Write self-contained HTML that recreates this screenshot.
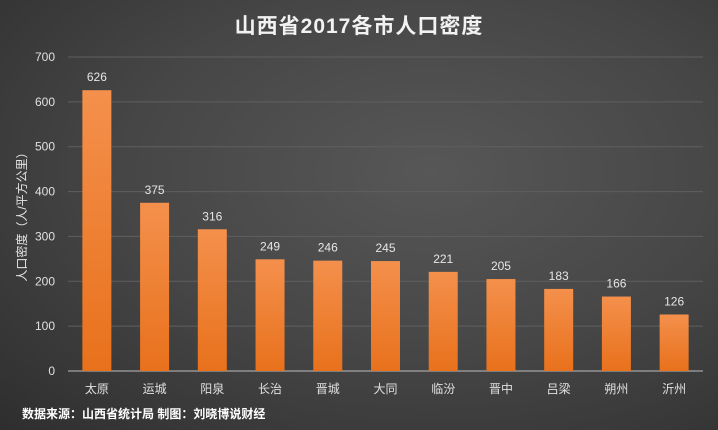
<!DOCTYPE html>
<html><head><meta charset="utf-8"><style>
body{margin:0;width:718px;height:430px;overflow:hidden;background:radial-gradient(ellipse at 60% 40%,#575757 0%,#464646 50%,#2e2e2e 100%);font-family:"Liberation Sans","Noto Sans CJK SC",sans-serif;}
svg{display:block}
</style></head><body>
<svg id="c" width="718" height="430">
<defs><linearGradient id="g" x1="0" y1="0" x2="0" y2="1"><stop offset="0" stop-color="#f4904c"/><stop offset="1" stop-color="#e8711c"/></linearGradient></defs>
<text x="359" y="33" text-anchor="middle" fill="#f2f2f2" font-size="21" font-weight="bold" style="letter-spacing:1px">山西省2017各市人口密度</text>
<text transform="translate(26,214) rotate(-90)" text-anchor="middle" fill="#e6e6e6" font-size="12">人口密度（人/平方公里）</text>
<text x="22" y="418" fill="#ffffff" font-size="12" font-weight="bold">数据来源：山西省统计局 制图：刘晓博说财经</text>
<g id="grid"></g><g id="bars"></g>
</svg>
<script>
const categories=["太原","运城","阳泉","长治","晋城","大同","临汾","晋中","吕梁","朔州","沂州"];
const values=[626,375,316,249,246,245,221,205,183,166,126];
const ticks=[0,100,200,300,400,500,600,700];
const svg=document.getElementById('c'),NS="http://www.w3.org/2000/svg";
const x0=68,x1=703,yBase=371,yTop=57,yMax=700;
const y=v=>yBase-(v/yMax)*(yBase-yTop);
const step=(x1-x0)/categories.length;
const xc=i=>x0+step*(i+0.5);
const grid=document.getElementById('grid'),bars=document.getElementById('bars');
function mk(t,a,p){const e=document.createElementNS(NS,t);for(const k in a)e.setAttribute(k,a[k]);p.appendChild(e);return e;}
ticks.forEach(t=>{
  const l=mk('line',{x1:x0,x2:x1,y1:y(t),y2:y(t),stroke:t===0?'#bdbdbd':'#5f5f5f','stroke-width':1},grid);
  
  
  const tx=mk('text',{x:55,y:y(t)+4,'text-anchor':'end',fill:'#e0e0e0','font-size':12},grid);tx.textContent=t;
  
  
});
categories.forEach((c,i)=>{
  const w=29,cx=xc(i);
  const r=mk('rect',{x:cx-w/2,y:y(values[i]),width:w,height:yBase-y(values[i]),fill:'url(#g)'},bars);
  
  
  const v=mk('text',{x:cx,y:y(values[i])-9,'text-anchor':'middle',fill:'#e6e6e6','font-size':12},bars);v.textContent=values[i];
  
  
  const cl=mk('text',{x:cx,y:393,'text-anchor':'middle',fill:'#e0e0e0','font-size':12},bars);cl.textContent=c;
  
  
});
</script>
</body></html>
